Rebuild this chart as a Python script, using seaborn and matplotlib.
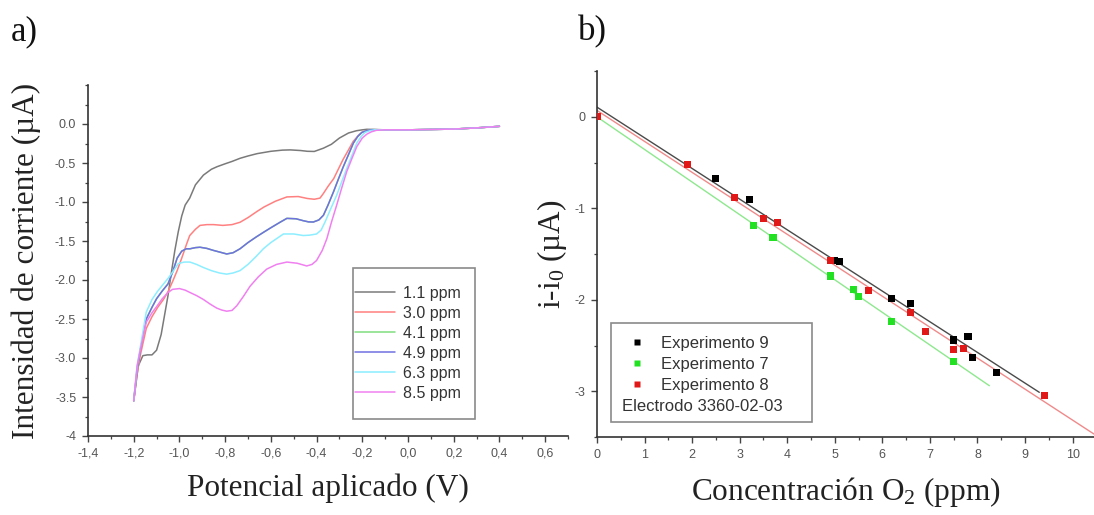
import numpy as np
import pandas as pd
import matplotlib
matplotlib.use("Agg")
import matplotlib.pyplot as plt
import seaborn as sns
from matplotlib.ticker import MultipleLocator, FixedLocator, FixedFormatter
from matplotlib.patches import Rectangle

# ---------------- panel a: voltammograms ----------------
CONCENTRATIONS = ["1.1 ppm", "3.0 ppm", "4.1 ppm", "4.9 ppm", "6.3 ppm", "8.5 ppm"]

potential_11 = [-1.20, -1.18, -1.16, -1.14, -1.12, -1.10, -1.08, -1.065, -1.05, -1.035, -1.02,
                -1.005, -0.99, -0.975, -0.955, -0.93, -0.895, -0.86, -0.835, -0.80, -0.77, -0.735,
                -0.70, -0.66, -0.60, -0.55, -0.515, -0.47, -0.44, -0.41, -0.37, -0.335, -0.30,
                -0.26, -0.225, -0.20, -0.18, -0.15, -0.10, 0.0, 0.1, 0.2, 0.3, 0.4]
current_11 = [-3.55, -3.10, -2.97, -2.96, -2.96, -2.90, -2.70, -2.45, -2.20, -1.90, -1.62,
              -1.38, -1.18, -1.04, -0.95, -0.78, -0.655, -0.58, -0.547, -0.51, -0.48, -0.44,
              -0.41, -0.38, -0.35, -0.335, -0.332, -0.34, -0.35, -0.352, -0.31, -0.26, -0.18,
              -0.115, -0.086, -0.075, -0.068, -0.07, -0.075, -0.075, -0.07, -0.065, -0.05, -0.03]

potential_30 = [-1.20, -1.185, -1.17, -1.145, -1.12, -1.095, -1.07, -1.05, -1.03, -1.01, -0.99,
                -0.97, -0.955, -0.93, -0.91, -0.88, -0.85, -0.81, -0.77, -0.735, -0.70, -0.66,
                -0.63, -0.58, -0.53, -0.48, -0.44, -0.41, -0.385, -0.37, -0.35, -0.325, -0.305,
                -0.285, -0.26, -0.24, -0.215, -0.195, -0.17, -0.15, -0.10, 0.0, 0.1, 0.2, 0.3, 0.4]
current_30 = [-3.55, -3.20, -2.95, -2.62, -2.47, -2.35, -2.25, -2.15, -2.02, -1.88, -1.72,
              -1.55, -1.43, -1.35, -1.30, -1.29, -1.29, -1.30, -1.29, -1.26, -1.20, -1.12,
              -1.064, -0.99, -0.935, -0.93, -0.955, -0.965, -0.95, -0.89, -0.80, -0.70, -0.58,
              -0.46, -0.33, -0.224, -0.14, -0.095, -0.078, -0.073, -0.075, -0.075, -0.07, -0.065,
              -0.05, -0.03]

potential_41 = [-1.20, -1.185, -1.17, -1.145, -1.12, -1.10, -1.075, -1.05, -1.03, -1.01, -0.99,
                -0.97, -0.954, -0.93, -0.91, -0.88, -0.852, -0.82, -0.793, -0.765, -0.735, -0.70,
                -0.665, -0.633, -0.60, -0.56, -0.53, -0.49, -0.458, -0.435, -0.414, -0.39, -0.37,
                -0.35, -0.326, -0.305, -0.283, -0.26, -0.239, -0.22, -0.202, -0.18, -0.158, -0.10,
                0.0, 0.1, 0.2, 0.3, 0.4]
current_41 = [-3.55, -3.15, -2.88, -2.50, -2.35, -2.24, -2.14, -2.05, -1.90, -1.72, -1.63,
              -1.60, -1.60, -1.585, -1.58, -1.595, -1.62, -1.645, -1.665, -1.65, -1.60, -1.52,
              -1.45, -1.39, -1.33, -1.26, -1.21, -1.215, -1.24, -1.255, -1.255, -1.23, -1.17,
              -1.04, -0.87, -0.71, -0.547, -0.39, -0.245, -0.16, -0.108, -0.085, -0.073, -0.075,
              -0.075, -0.07, -0.065, -0.05, -0.03]

potential_49 = [-1.20, -1.185, -1.17, -1.145, -1.12, -1.10, -1.075, -1.05, -1.03, -1.01, -0.99,
                -0.97, -0.954, -0.93, -0.91, -0.88, -0.852, -0.82, -0.793, -0.765, -0.735, -0.70,
                -0.665, -0.633, -0.60, -0.56, -0.53, -0.49, -0.458, -0.435, -0.414, -0.39, -0.37,
                -0.35, -0.326, -0.305, -0.283, -0.26, -0.239, -0.22, -0.202, -0.18, -0.158, -0.10,
                0.0, 0.1, 0.2, 0.3, 0.4]
current_49 = [-3.55, -3.15, -2.88, -2.50, -2.35, -2.24, -2.14, -2.05, -1.90, -1.72, -1.63,
              -1.60, -1.60, -1.585, -1.58, -1.595, -1.62, -1.645, -1.667, -1.65, -1.60, -1.52,
              -1.45, -1.39, -1.33, -1.26, -1.21, -1.215, -1.24, -1.255, -1.257, -1.23, -1.17,
              -1.04, -0.87, -0.71, -0.547, -0.39, -0.245, -0.16, -0.108, -0.085, -0.073, -0.075,
              -0.075, -0.07, -0.065, -0.05, -0.03]

potential_63 = [-1.20, -1.185, -1.17, -1.145, -1.12, -1.097, -1.075, -1.05, -1.03, -1.005, -0.98,
                -0.954, -0.925, -0.895, -0.86, -0.825, -0.793, -0.765, -0.735, -0.70, -0.665,
                -0.633, -0.60, -0.57, -0.545, -0.50, -0.458, -0.43, -0.40, -0.38, -0.363, -0.34,
                -0.312, -0.29, -0.268, -0.245, -0.224, -0.205, -0.188, -0.165, -0.144, -0.10, 0.0,
                0.1, 0.2, 0.3, 0.4]
current_63 = [-3.55, -3.10, -2.84, -2.41, -2.25, -2.15, -2.07, -1.98, -1.90, -1.79, -1.77,
              -1.77, -1.80, -1.84, -1.88, -1.91, -1.925, -1.91, -1.88, -1.80, -1.70, -1.60,
              -1.52, -1.46, -1.41, -1.41, -1.43, -1.425, -1.41, -1.36, -1.257, -1.10, -0.913,
              -0.74, -0.57, -0.40, -0.245, -0.16, -0.108, -0.085, -0.073, -0.075, -0.075, -0.07,
              -0.065, -0.05, -0.03]

potential_85 = [-1.20, -1.185, -1.17, -1.145, -1.12, -1.097, -1.075, -1.05, -1.03, -1.00, -0.975,
                -0.954, -0.925, -0.895, -0.865, -0.837, -0.815, -0.793, -0.77, -0.749, -0.72,
                -0.691, -0.655, -0.618, -0.575, -0.53, -0.485, -0.443, -0.42, -0.40, -0.375,
                -0.355, -0.335, -0.312, -0.29, -0.268, -0.245, -0.224, -0.20, -0.18, -0.16,
                -0.137, -0.10, 0.0, 0.1, 0.2, 0.3, 0.4]
current_85 = [-3.55, -3.10, -2.88, -2.54, -2.42, -2.33, -2.24, -2.16, -2.12, -2.11, -2.13,
              -2.16, -2.20, -2.25, -2.31, -2.36, -2.385, -2.40, -2.39, -2.33, -2.21, -2.08,
              -1.96, -1.86, -1.80, -1.77, -1.785, -1.82, -1.80, -1.75, -1.62, -1.47, -1.26,
              -1.04, -0.82, -0.61, -0.44, -0.29, -0.18, -0.13, -0.10, -0.08, -0.075, -0.075,
              -0.07, -0.065, -0.05, -0.03]

CURVE_COLORS = ["#7a7a7a", "#ff8080", "#80de80", "#7070e0", "#8ceeff", "#f080f0"]

A_XTICKS = [-1.4, -1.2, -1.0, -0.8, -0.6, -0.4, -0.2, 0.0, 0.2, 0.4, 0.6]
A_XTICKLABELS = ["-1,4", "-1,2", "-1,0", "-0,8", "-0,6", "-0,4", "-0,2", "0,0", "0,2", "0,4", "0,6"]
A_YTICKS = [0.0, -0.5, -1.0, -1.5, -2.0, -2.5, -3.0, -3.5, -4.0]
A_YTICKLABELS = ["0.0", "-0.5", "-1.0", "-1.5", "-2.0", "-2.5", "-3.0", "-3.5", "-4"]

# ---------------- panel b: calibration ----------------
EXPERIMENTS = ["Experimento 9", "Experimento 7", "Experimento 8"]

conc_exp9 = [0.0, 2.5, 3.2, 5.0, 5.1, 6.2, 6.6, 7.5, 7.8, 7.9, 8.4]
delta_i_exp9 = [0.0, -0.67, -0.90, -1.57, -1.58, -1.99, -2.04, -2.44, -2.40, -2.63, -2.80]

conc_exp7 = [0.0, 3.3, 3.7, 4.9, 5.4, 5.5, 6.2, 7.5]
delta_i_exp7 = [0.0, -1.19, -1.32, -1.74, -1.89, -1.96, -2.24, -2.67]

conc_exp8 = [0.0, 1.9, 2.9, 3.5, 3.8, 4.9, 5.7, 6.6, 6.9, 7.5, 7.7, 9.4]
delta_i_exp8 = [0.0, -0.52, -0.88, -1.11, -1.16, -1.57, -1.90, -2.14, -2.35, -2.54, -2.53, -3.05]

MARKER_COLORS = ["#000000", "#22e022", "#e01818"]
FIT_COLORS = ["#4a4a4a", "#8ee88e", "#f08a8a"]
FIT_END = [9.3, 8.25, 10.45]

B_XTICKS = [0, 1, 2, 3, 4, 5, 6, 7, 8, 9, 10]
B_XTICKLABELS = ["0", "1", "2", "3", "4", "5", "6", "7", "8", "9", "10"]
B_YTICKS = [0, -1, -2, -3]
B_YTICKLABELS = ["0", "-1", "-2", "-3"]

# ---------------- styling ----------------
sns.set_theme(style="ticks")
plt.rcParams.update({
    "font.family": ["Liberation Sans", "DejaVu Sans"],
    "mathtext.fontset": "custom",
    "mathtext.rm": "Liberation Serif",
    "mathtext.it": "Liberation Serif:italic",
    "axes.edgecolor": "#333333",
    "axes.linewidth": 1.2,
    "xtick.color": "#444444",
    "ytick.color": "#444444",
    "xtick.labelcolor": "#555555",
    "ytick.labelcolor": "#555555",
})

SERIF = ["Liberation Serif", "DejaVu Serif"]
SANS = ["Liberation Sans", "DejaVu Sans"]
W, H = 1094, 515
fig = plt.figure(figsize=(W / 100, H / 100), dpi=100)
fig.patch.set_facecolor("white")

ax_a = fig.add_axes([88 / W, 1 - 436 / H, 480 / W, 351 / H])
ax_b = fig.add_axes([597 / W, 1 - 437 / H, 497 / W, 366 / H])


def style_axis(ax):
    sns.despine(ax=ax)
    ax.tick_params(which="major", direction="out", length=4, width=1.0, labelsize=9, pad=4.5)
    ax.tick_params(which="minor", direction="out", length=2.5, width=0.9)
    for lab in ax.get_xticklabels() + ax.get_yticklabels():
        lab.set_fontfamily(SANS)


# panel a
potentials = [potential_11, potential_30, potential_41, potential_49, potential_63, potential_85]
currents = [current_11, current_30, current_41, current_49, current_63, current_85]
frames = []
for label, xs, ys in zip(CONCENTRATIONS, potentials, currents):
    frames.append(pd.DataFrame({"E": xs, "I": ys, "conc": label}))
df_a = pd.concat(frames, ignore_index=True)

sns.lineplot(data=df_a, x="E", y="I", hue="conc", hue_order=CONCENTRATIONS,
             palette=CURVE_COLORS, sort=False, estimator=None, units="conc",
             linewidth=1.1, ax=ax_a, legend=True)

ax_a.set_xlim(-1.4, 0.7)
ax_a.set_ylim(-4.0, 0.5)
ax_a.xaxis.set_major_locator(FixedLocator(A_XTICKS))
ax_a.xaxis.set_major_formatter(FixedFormatter(A_XTICKLABELS))
ax_a.xaxis.set_minor_locator(MultipleLocator(0.1))
ax_a.yaxis.set_major_locator(FixedLocator(A_YTICKS))
ax_a.yaxis.set_major_formatter(FixedFormatter(A_YTICKLABELS))
ax_a.yaxis.set_minor_locator(MultipleLocator(0.25))
style_axis(ax_a)
ax_a.set_xlabel("Potencial aplicado (V)", fontsize=22.5, family=SERIF, color="#222222", labelpad=10)
ax_a.set_ylabel("Intensidad de corriente (µA)", fontsize=22.5, family=SERIF, color="#222222", labelpad=10)

ax_a.add_patch(Rectangle((0.552, 0.048), 0.254, 0.430, transform=ax_a.transAxes,
                         fill=False, edgecolor="#8a8a8a", linewidth=1.2, zorder=5))
handles, labels = ax_a.get_legend_handles_labels()
leg_a = ax_a.legend(handles, labels, loc="upper left", bbox_to_anchor=(0.556, 0.428),
                    frameon=False, borderpad=0, borderaxespad=0, fontsize=11.5,
                    handlelength=2.5, handletextpad=0.5, labelspacing=0.31)
for t in leg_a.get_texts():
    t.set_color("#333333")

# panel b
conc_sets = [conc_exp9, conc_exp7, conc_exp8]
delta_sets = [delta_i_exp9, delta_i_exp7, delta_i_exp8]
frames_b = [pd.DataFrame({"c": c, "d": d, "exp": name})
            for name, c, d in zip(EXPERIMENTS, conc_sets, delta_sets)]
df_b = pd.concat(frames_b, ignore_index=True)

# least-squares calibration lines
for name, c, d, col, xend in zip(EXPERIMENTS, conc_sets, delta_sets, FIT_COLORS, FIT_END):
    slope, intercept = np.polyfit(c, d, 1)
    xfit = np.array([0.0, xend])
    fit_df = pd.DataFrame({"c": xfit, "d": intercept + slope * xfit})
    sns.lineplot(data=fit_df, x="c", y="d", color=col, linewidth=1.0, ax=ax_b, legend=False)

sns.scatterplot(data=df_b, x="c", y="d", hue="exp", hue_order=EXPERIMENTS,
                palette=MARKER_COLORS, marker="s", s=26, edgecolor="none",
                ax=ax_b, legend=True, zorder=4)

ax_b.set_xlim(0, 10.45)
ax_b.set_ylim(-3.5, 0.5)
ax_b.xaxis.set_major_locator(FixedLocator(B_XTICKS))
ax_b.xaxis.set_major_formatter(FixedFormatter(B_XTICKLABELS))
ax_b.xaxis.set_minor_locator(MultipleLocator(0.5))
ax_b.yaxis.set_major_locator(FixedLocator(B_YTICKS))
ax_b.yaxis.set_major_formatter(FixedFormatter(B_YTICKLABELS))
ax_b.yaxis.set_minor_locator(MultipleLocator(0.5))
style_axis(ax_b)
ax_b.set_xlabel("Concentración O$_2$ (ppm)", fontsize=22.5, family=SERIF, color="#222222", labelpad=10)
ax_b.set_ylabel("i-i$_0$ (µA)", fontsize=22.5, family=SERIF, color="#222222", labelpad=4)

ax_b.add_patch(Rectangle((0.028, 0.041), 0.404, 0.270, transform=ax_b.transAxes,
                         fill=False, edgecolor="#8a8a8a", linewidth=1.2, zorder=5))
handles_b, labels_b = ax_b.get_legend_handles_labels()
leg_b = ax_b.legend(handles_b, labels_b, loc="upper left", bbox_to_anchor=(0.066, 0.276),
                    frameon=False, borderpad=0, borderaxespad=0, fontsize=12,
                    handlelength=0.9, handletextpad=1.0, labelspacing=0.36, markerscale=0.8)
for t in leg_b.get_texts():
    t.set_color("#333333")
ax_b.text(0.0503, 0.082, "Electrodo 3360-02-03", transform=ax_b.transAxes, fontsize=12,
          va="center", ha="left", color="#333333", family=SANS)

# panel letters
fig.text(11 / W, 1 - 32 / H, "a)", fontsize=25, family=SERIF, va="center", ha="left", color="#111111")
fig.text(578 / W, 1 - 32 / H, "b)", fontsize=25, family=SERIF, va="center", ha="left", color="#111111")

fig.savefig("out.png", dpi=100, facecolor="white")
